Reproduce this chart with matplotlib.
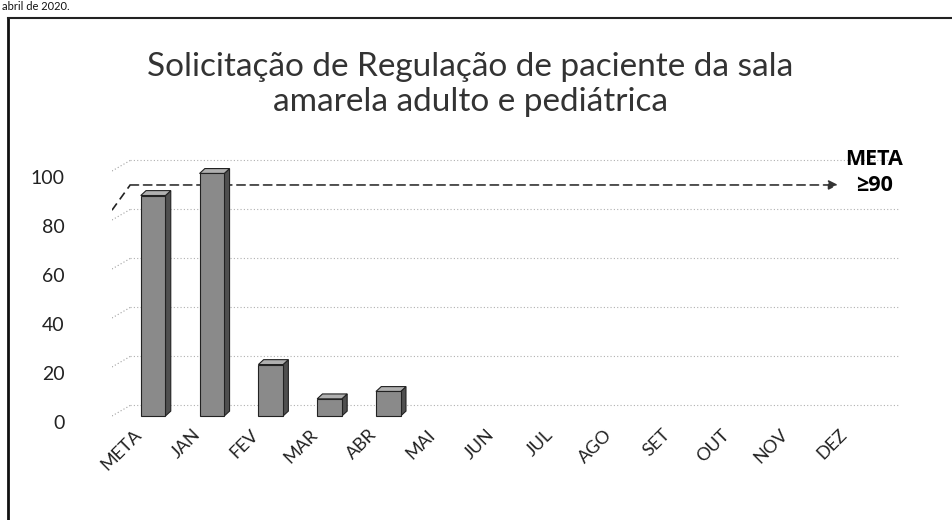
import matplotlib.pyplot as plt
import matplotlib.transforms as mtransforms
from matplotlib.lines import Line2D
from matplotlib.patches import Polygon

# dados do gráfico
meses = ['META', 'JAN', 'FEV', 'MAR', 'ABR', 'MAI', 'JUN', 'JUL', 'AGO', 'SET', 'OUT', 'NOV', 'DEZ']
valores = [90, 99, 21, 7, 10]          # só os meses com dado
meta = 90
yticks = [0, 20, 40, 60, 80, 100]
titulo = 'Solicitação de Regulação de paciente da sala\namarela adulto e pediátrica'

plt.rcParams['font.family'] = ['Lato', 'DejaVu Sans']

fig = plt.figure(figsize=(9.52, 5.2), dpi=100)
ax = fig.add_axes([0.1176, 0.1906, 0.8277, 0.5088])
ax.set_xlim(-0.7, 12.7)
ax.set_ylim(-2, 106)
for s in ax.spines.values():
    s.set_visible(False)

# profundidade da parede do fundo e das barras (em unidades de dados)
parede_dx, parede_dy = 0.31, 4.3
barra_dx, barra_dy = 0.09, 2.0
larg = 0.42

# grade na parede do fundo
x0 = -0.7
for v in yticks:
    ax.plot([x0, x0 + parede_dx], [v, v + parede_dy], color='#a0a0a0', lw=0.8, ls=(0, (1, 2)))
    ax.plot([x0 + parede_dx, 12.7], [v + parede_dy] * 2, color='#b0b0b0', lw=0.8, ls=(0, (1, 2)))

# barras "3D"
for i, v in enumerate(valores):
    esq, dir_ = i - larg / 2, i + larg / 2
    lado = Polygon([(dir_, 0), (dir_ + barra_dx, barra_dy), (dir_ + barra_dx, v + barra_dy), (dir_, v)],
                   closed=True, facecolor='#4f4f4f', edgecolor='#222222', lw=0.8, zorder=3)
    topo = Polygon([(esq, v), (esq + barra_dx, v + barra_dy), (dir_ + barra_dx, v + barra_dy), (dir_, v)],
                   closed=True, facecolor='#b0b0b0', edgecolor='#222222', lw=0.8, zorder=3)
    ax.add_patch(lado)
    ax.add_patch(topo)
ax.bar(range(len(valores)), valores, width=larg, color='#8a8a8a', edgecolor='#222222', lw=0.8, zorder=4)

# linha da meta
ax.plot([x0, x0 + parede_dx], [meta - 6, meta + parede_dy], color='#222222', lw=1.2, ls=(0, (5, 3)), zorder=2)
ax.annotate('', xy=(11.65, meta + parede_dy), xytext=(x0 + parede_dx, meta + parede_dy),
            arrowprops=dict(arrowstyle='-|>', color='#333333', lw=1.2, ls=(0, (5, 3)),
                            mutation_scale=14, shrinkA=0, shrinkB=0), zorder=2)
ax.text(12.26, 99.5, 'META\n≥90', ha='center', va='center', fontsize=15.5,
        fontweight='bold', linespacing=1.3, family=['Open Sans', 'DejaVu Sans'])

# eixos
ax.set_yticks(yticks)
ax.set_xticks(range(len(meses)))
ax.set_xticklabels(meses, rotation=45, ha='right', rotation_mode='anchor', fontsize=13)
ax.tick_params(axis='y', length=0, pad=34, labelsize=14)
ax.tick_params(axis='x', length=0, pad=4)
desl_y = mtransforms.ScaledTranslation(0, -0.06, fig.dpi_scale_trans)
for lb in ax.get_yticklabels():
    lb.set_transform(lb.get_transform() + desl_y)
    lb.set_color('#222222')
desl_x = mtransforms.ScaledTranslation(-0.2, 0, fig.dpi_scale_trans)
for lb in ax.get_xticklabels():
    lb.set_transform(lb.get_transform() + desl_x)
    lb.set_color('#222222')

fig.text(0.494, 0.837, titulo, ha='center', va='center', fontsize=24, color='#333333',
         linespacing=1.2)

# moldura e texto no topo
fig.add_artist(Line2D([8 / 952, 8 / 952], [0, 1 - 18 / 520], transform=fig.transFigure, color='#111111', lw=2))
fig.add_artist(Line2D([8 / 952, 1], [1 - 18 / 520] * 2, transform=fig.transFigure, color='#222222', lw=1.5))
fig.text(0.002, 0.999, 'abril de 2020.', ha='left', va='top', fontsize=8, color='#111111')

fig.savefig('out.png', dpi=100, facecolor='white')
